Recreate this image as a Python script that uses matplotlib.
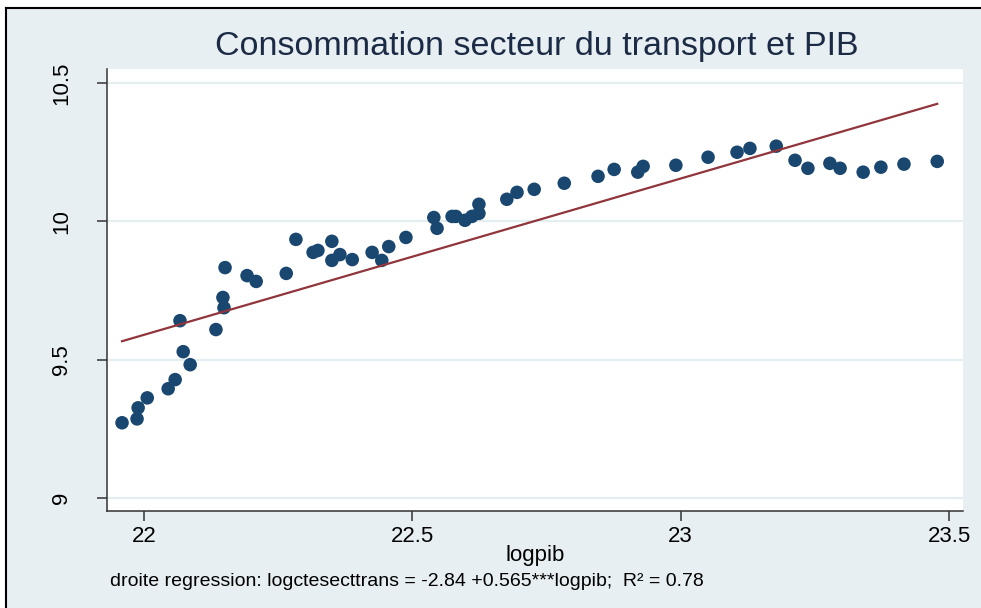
import matplotlib
matplotlib.use("Agg")
import matplotlib.pyplot as plt
from matplotlib.patches import Rectangle

plt.rcParams['font.family'] = ['Liberation Sans', 'DejaVu Sans']

# log GDP and log transport-sector consumption
logpib = [21.959, 21.987, 21.989, 22.006, 22.045, 22.058, 22.067, 22.073, 22.086,
          22.134, 22.147, 22.149, 22.151, 22.192, 22.209, 22.265, 22.283, 22.315,
          22.324, 22.350, 22.350, 22.365, 22.388, 22.425, 22.443, 22.456, 22.488,
          22.540, 22.546, 22.574, 22.581, 22.598, 22.611, 22.624, 22.624, 22.676,
          22.695, 22.727, 22.783, 22.846, 22.876, 22.920, 22.930, 22.991, 23.051,
          23.105, 23.129, 23.178, 23.213, 23.237, 23.278, 23.297, 23.340, 23.373,
          23.416, 23.478]
logctesecttrans = [9.272, 9.286, 9.326, 9.362, 9.395, 9.428, 9.641, 9.529, 9.482,
                   9.609, 9.725, 9.688, 9.833, 9.804, 9.783, 9.812, 9.935, 9.888,
                   9.895, 9.928, 9.859, 9.880, 9.862, 9.888, 9.859, 9.909, 9.942,
                   10.014, 9.975, 10.018, 10.018, 10.004, 10.018, 10.029, 10.062, 10.080,
                   10.105, 10.116, 10.138, 10.163, 10.188, 10.178, 10.199, 10.203, 10.232,
                   10.250, 10.264, 10.272, 10.221, 10.192, 10.210, 10.192, 10.178, 10.196,
                   10.207, 10.217]

# fitted regression line
intercept = -2.84
slope = 0.565

xticks = [22, 22.5, 23, 23.5]
yticks = [9, 9.5, 10, 10.5]

bg = '#e8eff2'
navy = '#1a476f'
maroon = '#90353b'

fig = plt.figure(figsize=(9.81, 6.08), dpi=100, facecolor='white')
fig.patches.append(Rectangle((6 / 981, 0), 1.0, 1 - 8 / 608, transform=fig.transFigure,
                             facecolor=bg, edgecolor='none', zorder=-10))
fig.lines.append(plt.Line2D([6 / 981, 6 / 981], [0, 1 - 8 / 608], transform=fig.transFigure,
                            color='black', lw=1.5, zorder=-5))
fig.lines.append(plt.Line2D([6 / 981, 1], [1 - 8 / 608, 1 - 8 / 608], transform=fig.transFigure,
                            color='black', lw=1.5, zorder=-5))

ax = fig.add_axes([107 / 981, 97 / 608, (963 - 107) / 981, (511 - 69) / 608])
ax.set_zorder(2)
ax.set_facecolor('white')

ax.set_xlim(21.931, 23.526)
ax.set_ylim(8.953, 10.551)

for y in yticks:
    ax.axhline(y, color='#e4edf0', lw=1.6, zorder=1)

ax.scatter(logpib, logctesecttrans, s=95, color=navy, edgecolors='none', zorder=3)

x0, x1 = min(logpib), max(logpib)
ax.plot([x0, x1], [intercept + slope * x0, intercept + slope * x1],
        color=maroon, lw=1.6, zorder=4)

ax.set_xticks(xticks)
ax.set_xticklabels(['22', '22.5', '23', '23.5'])
ax.set_yticks(yticks)
ax.set_yticklabels(['9', '9.5', '10', '10.5'], rotation=90, va='center')

ax.tick_params(axis='both', labelsize=16, length=7, width=1.1, color='#333333',
               labelcolor='black', pad=4)
ax.tick_params(axis='y', pad=18)

for side in ['top', 'right']:
    ax.spines[side].set_visible(False)
for side in ['left', 'bottom']:
    ax.spines[side].set_color('#333333')
    ax.spines[side].set_linewidth(1.1)

ax.set_xlabel('logpib', fontsize=16, labelpad=-2)

fig.text(537 / 981, 1 - 47 / 608, 'Consommation secteur du transport et PIB',
         ha='center', va='center', fontsize=24.5, color='#1c2b45')
fig.text(110 / 981, 1 - 582 / 608,
         'droite regression: logctesecttrans = -2.84 +0.565***logpib;  R\u00b2 = 0.78',
         ha='left', va='center', fontsize=14, color='black')

fig.savefig('out.png', dpi=100, facecolor=fig.get_facecolor())
